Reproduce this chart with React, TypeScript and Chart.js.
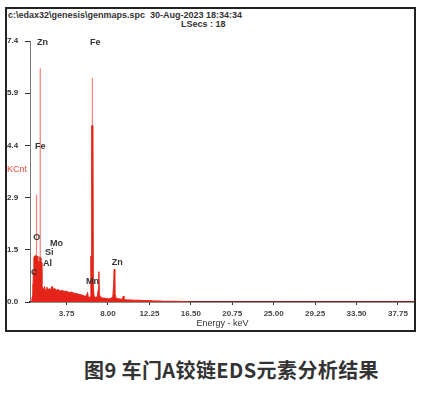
import { useEffect, useRef } from "react";
import { Chart, registerables } from "chart.js";

Chart.register(...registerables);

// Spectrum (energy in keV, counts in KCnt)
const spectrumEnergy = [
  0.0, 0.15, 0.2, 0.3, 0.34, 0.4, 0.45, 0.5, 0.55, 0.6, 0.65, 0.7, 0.75, 0.8, 0.85, 0.9, 0.95, 1.0, 1.08, 1.12,
  1.17, 1.22, 1.3, 1.4, 1.49, 1.56, 1.66, 1.74, 1.82, 1.95, 2.1, 2.29, 2.4, 2.55, 2.7, 2.9, 3.1, 3.3, 3.5, 3.7,
  3.9, 4.1, 4.3, 4.5, 4.7, 4.9, 5.1, 5.3, 5.5, 5.7, 5.82, 5.9, 5.98, 6.1, 6.2, 6.25, 6.29, 6.33, 6.46, 6.5,
  6.58, 6.75, 6.92, 7.0, 7.06, 7.12, 7.3, 7.55, 7.8, 8.05, 8.3, 8.5, 8.58, 8.64, 8.7, 8.85, 9.1, 9.4, 9.52, 9.57,
  9.64, 9.9, 10.3, 10.7, 11.2, 11.7, 12.2, 12.7, 13.2, 13.7, 14.3, 14.9, 15.5, 16.1, 16.3, 39.5,
];
const spectrumCounts = [
  0, 0, 0.1, 0.2, 0.85, 1.25, 1.3, 1.22, 1.32, 1.26, 1.3, 1.24, 1.3, 1.2, 1.15, 0.75, 1.1, 1.28, 1.25, 0.7,
  1.12, 0.5, 0.38, 0.36, 0.44, 0.32, 0.36, 0.42, 0.33, 0.38, 0.35, 0.45, 0.36, 0.38, 0.34, 0.35, 0.31, 0.33, 0.3, 0.31,
  0.28, 0.27, 0.28, 0.25, 0.24, 0.23, 0.21, 0.2, 0.18, 0.16, 0.2, 0.27, 0.15, 0.13, 0.16, 1.3, 0.4, 5.0, 5.0, 0.4,
  0.15, 0.13, 0.16, 0.35, 0.86, 0.2, 0.12, 0.11, 0.1, 0.09, 0.1, 0.16, 0.5, 0.93, 0.25, 0.1, 0.09, 0.08, 0.12, 0.17,
  0.07, 0.06, 0.06, 0.05, 0.05, 0.04, 0.04, 0.03, 0.03, 0.02, 0.02, 0.02, 0.015, 0.01, 0, 0,
];

// Thin light spikes (peak tips)
const spikeEnergy = [0.28, 0.67, 1.05, 6.4];
const spikeCounts = [0.52, 3.05, 6.63, 6.35];

// Element labels (anchor: energy of left edge, count of vertical centre)
const elementNames = ["Zn", "Fe", "Fe", "O", "Mo", "Si", "Al", "C", "Mn", "Zn"];
const elementEnergy = [0.72, 6.15, 0.51, 0.34, 2.05, 1.54, 1.33, 0.1, 5.74, 8.4];
const elementCounts = [7.37, 7.37, 4.4, 1.84, 1.67, 1.39, 1.1, 0.85, 0.57, 1.13];

// Axes
const xTickValues = [3.75, 8.0, 12.25, 16.5, 20.75, 25.0, 29.25, 33.5, 37.75];
const yTickValues = [0, 1.48, 2.96, 4.44, 5.92, 7.4];
const yTickLabels = ["0.0", "1.5", "2.9", "4.4", "5.9", "7.4"];

const headerLine1 = "c:\\edax32\\genesis\\genmaps.spc  30-Aug-2023 18:34:34";
const headerLine2 = "LSecs : 18";
const caption = "图9 车门A铰链EDS元素分析结果";

const FONT = '"Liberation Sans", Arial, sans-serif';

export default function App() {
  const ref = useRef<HTMLCanvasElement>(null);

  useEffect(() => {
    const canvas = ref.current;
    if (!canvas) return;

    const mainData = spectrumEnergy.map((e, i) => ({ x: e, y: spectrumCounts[i] }));
    const spikeData: { x: number; y: number | null }[] = [];
    spikeEnergy.forEach((e, i) => {
      spikeData.push({ x: e, y: 0 }, { x: e, y: spikeCounts[i] }, { x: e, y: null });
    });

    const labelPlugin = {
      id: "elementLabels",
      afterDatasetsDraw(chart: any) {
        const { ctx, scales } = chart;
        ctx.save();
        ctx.font = `bold 9px ${FONT}`;
        ctx.fillStyle = "#333";
        ctx.textAlign = "left";
        ctx.textBaseline = "middle";
        elementNames.forEach((n, i) => {
          ctx.fillText(n, scales.x.getPixelForValue(elementEnergy[i]), scales.y.getPixelForValue(elementCounts[i]));
        });
        ctx.font = `9px ${FONT}`;
        ctx.fillStyle = "#f04a3a";
        ctx.fillText("KCnt", 7, scales.y.getPixelForValue(3.77));
        ctx.restore();
      },
    };

    const chart = new Chart(canvas, {
      type: "line",
      data: {
        datasets: [
          {
            data: mainData,
            borderColor: "rgb(228,36,24)",
            backgroundColor: "rgb(228,36,24)",
            borderWidth: 1,
            fill: "origin",
            pointRadius: 0,
            tension: 0,
            order: 0,
          },
          {
            data: spikeData as any,
            borderColor: "rgb(246,128,116)",
            borderWidth: 1.2,
            fill: false,
            pointRadius: 0,
            tension: 0,
            spanGaps: false,
            order: 1,
          },
        ],
      },
      options: {
        responsive: false,
        animation: false,
        parsing: false,
        normalized: true,
        layout: { padding: { left: 7, top: 41, right: 8, bottom: 8 } },
        plugins: { legend: { display: false }, tooltip: { enabled: false } },
        scales: {
          x: {
            type: "linear",
            min: 0,
            max: 39.5,
            afterBuildTicks: (s: any) => {
              s.ticks = xTickValues.map((v) => ({ value: v }));
            },
            afterFit: (s: any) => {
              s.height = 30;
            },
            border: { color: "#222", width: 1.5 },
            grid: { drawOnChartArea: false, drawTicks: true, tickLength: 3, color: "#333" },
            ticks: {
              autoSkip: false,
              maxRotation: 0,
              padding: 4,
              color: "#444",
              font: { family: FONT, size: 8, weight: "bold" },
              callback: (v: any) => Number(v).toFixed(2),
            },
            title: {
              display: true,
              text: "Energy - keV",
              color: "#333",
              font: { family: FONT, size: 9 },
              padding: { top: 0, bottom: 3 },
            },
          },
          y: {
            type: "linear",
            min: 0,
            max: 7.4,
            afterBuildTicks: (s: any) => {
              s.ticks = yTickValues.map((v) => ({ value: v }));
            },
            afterFit: (s: any) => {
              s.width = 23;
            },
            border: { color: "#777", width: 1 },
            grid: { drawOnChartArea: false, drawTicks: true, tickLength: 5, color: "#333" },
            ticks: {
              crossAlign: "far",
              color: "#333",
              font: { family: FONT, size: 8, weight: "bold" },
              callback: (_v: any, i: number) => yTickLabels[i],
            },
          },
        },
      },
      plugins: [labelPlugin],
    } as any);

    return () => chart.destroy();
  }, []);

  return (
    <div style={{ position: "fixed", left: 0, top: 0, width: 423, height: 393, background: "#fff" }}>
      <div
        style={{
          position: "absolute",
          left: 5,
          top: 7,
          width: 411,
          height: 325,
          border: "2px solid #222",
          boxSizing: "border-box",
        }}
      />
      <div
        style={{
          position: "absolute",
          left: 8,
          top: 10,
          font: `bold 9px ${FONT}`,
          lineHeight: "10px",
          color: "#333",
          whiteSpace: "pre",
        }}
      >
        {headerLine1}
      </div>
      <div
        style={{
          position: "absolute",
          left: 181,
          top: 19,
          font: `bold 9px ${FONT}`,
          lineHeight: "10px",
          color: "#333",
          whiteSpace: "pre",
        }}
      >
        {headerLine2}
      </div>
      <canvas
        ref={ref}
        width={423}
        height={340}
        style={{ position: "absolute", left: 0, top: 0, width: 423, height: 340 }}
      />
      <div
        style={{
          position: "absolute",
          left: 84,
          top: 357,
          font: `bold 20px "Noto Sans CJK SC", sans-serif`,
          lineHeight: "26px",
          letterSpacing: "0.4px",
          color: "#333",
          whiteSpace: "nowrap",
        }}
      >
        {caption}
      </div>
    </div>
  );
}
